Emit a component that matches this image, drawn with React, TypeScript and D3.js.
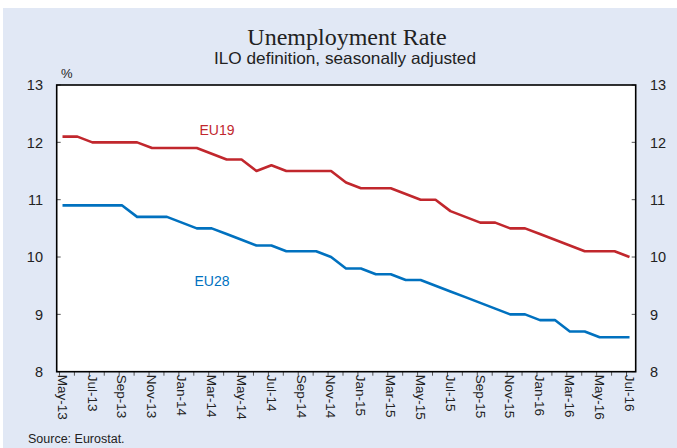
import React from "react";
import * as d3 from "d3";

const months = [
  "May-13","Jun-13","Jul-13","Aug-13","Sep-13","Oct-13","Nov-13","Dec-13",
  "Jan-14","Feb-14","Mar-14","Apr-14","May-14","Jun-14","Jul-14","Aug-14","Sep-14","Oct-14","Nov-14","Dec-14",
  "Jan-15","Feb-15","Mar-15","Apr-15","May-15","Jun-15","Jul-15","Aug-15","Sep-15","Oct-15","Nov-15","Dec-15",
  "Jan-16","Feb-16","Mar-16","Apr-16","May-16","Jun-16","Jul-16"
];
const eu19 = [
  12.1,12.1,12.0,12.0,12.0,12.0,11.9,11.9,
  11.9,11.9,11.8,11.7,11.7,11.5,11.6,11.5,11.5,11.5,11.5,11.3,
  11.2,11.2,11.2,11.1,11.0,11.0,10.8,10.7,10.6,10.6,10.5,10.5,
  10.4,10.3,10.2,10.1,10.1,10.1,10.0
];
const eu28 = [
  10.9,10.9,10.9,10.9,10.9,10.7,10.7,10.7,
  10.6,10.5,10.5,10.4,10.3,10.2,10.2,10.1,10.1,10.1,10.0,9.8,
  9.8,9.7,9.7,9.6,9.6,9.5,9.4,9.3,9.2,9.1,9.0,9.0,
  8.9,8.9,8.7,8.7,8.6,8.6,8.6
];
const yTicks = [8, 9, 10, 11, 12, 13];

const W = 677, H = 448;
const L = 56.7, R = 635.7, T = 85, B = 371.7;

export default function App() {
  const x = d3.scalePoint<string>().domain(months).range([62.5, 629.5]);
  const y = d3.scaleLinear().domain([8, 13]).range([B, T]);
  const line = (vals: number[]) =>
    d3.line<number>().x((_, i) => x(months[i]) as number).y((v) => y(v))(vals) as string;
  const labelMonths = months.filter((_, i) => i % 2 === 0);
  const sans = "'Liberation Sans', Arial, sans-serif";
  return (
    <svg width={W} height={H} style={{ position: "absolute", left: 0, top: 0 }}>
      <rect x={0} y={0} width={W} height={H} fill="#ffffff" />
      <rect x={3} y={8} width={W - 3} height={H - 8} fill="#e1e8f5" />
      <text x={347} y={45} textAnchor="middle" fontFamily="'Liberation Serif', 'Times New Roman', serif" fontSize={24} fill="#222">
        Unemployment Rate
      </text>
      <text x={345} y={64} textAnchor="middle" fontFamily={sans} fontSize={16.5} fill="#222" textLength={262} lengthAdjust="spacingAndGlyphs">
        ILO definition, seasonally adjusted
      </text>
      <text x={61} y={78} fontFamily={sans} fontSize={13} fill="#222">%</text>
      <rect x={L} y={T} width={R - L} height={B - T} fill="#fff" />
      {yTicks.map((t) => (
        <g key={t}>
          <line x1={L} x2={L + 4} y1={y(t)} y2={y(t)} stroke="#555" strokeWidth={1} />
          <line x1={R - 4} x2={R} y1={y(t)} y2={y(t)} stroke="#555" strokeWidth={1} />
          <text x={43} y={y(t)} dy="0.36em" textAnchor="end" fontFamily={sans} fontSize={14.5} fill="#222">{t}</text>
          <text x={650} y={y(t)} dy="0.36em" textAnchor="start" fontFamily={sans} fontSize={14.5} fill="#222">{t}</text>
        </g>
      ))}
      {months.map((m) => (
        <line key={m} x1={(x(m) as number) - 3} x2={(x(m) as number) - 3} y1={B} y2={B + 4} stroke="#555" strokeWidth={1} />
      ))}
      {labelMonths.map((m) => (
        <text key={m} transform={`translate(${x(m)},${B + 3}) rotate(90)`} dy="0.35em" textAnchor="start"
          fontFamily={sans} fontSize={13.5} fill="#222">{m}</text>
      ))}
      <rect x={L} y={T} width={R - L} height={B - T} fill="none" stroke="#000" strokeWidth={1.6} />
      <path d={line(eu19)} fill="none" stroke="#c1272d" strokeWidth={2.6} strokeLinejoin="round" />
      <path d={line(eu28)} fill="none" stroke="#0071bf" strokeWidth={2.6} strokeLinejoin="round" />
      <text x={217} y={130} dy="0.35em" textAnchor="middle" fontFamily={sans} fontSize={14} fill="#c1272d">EU19</text>
      <text x={212} y={281} dy="0.35em" textAnchor="middle" fontFamily={sans} fontSize={14} fill="#0071bf">EU28</text>
      <text x={28} y={443} fontFamily={sans} fontSize={12.5} fill="#222">Source: Eurostat.</text>
    </svg>
  );
}
